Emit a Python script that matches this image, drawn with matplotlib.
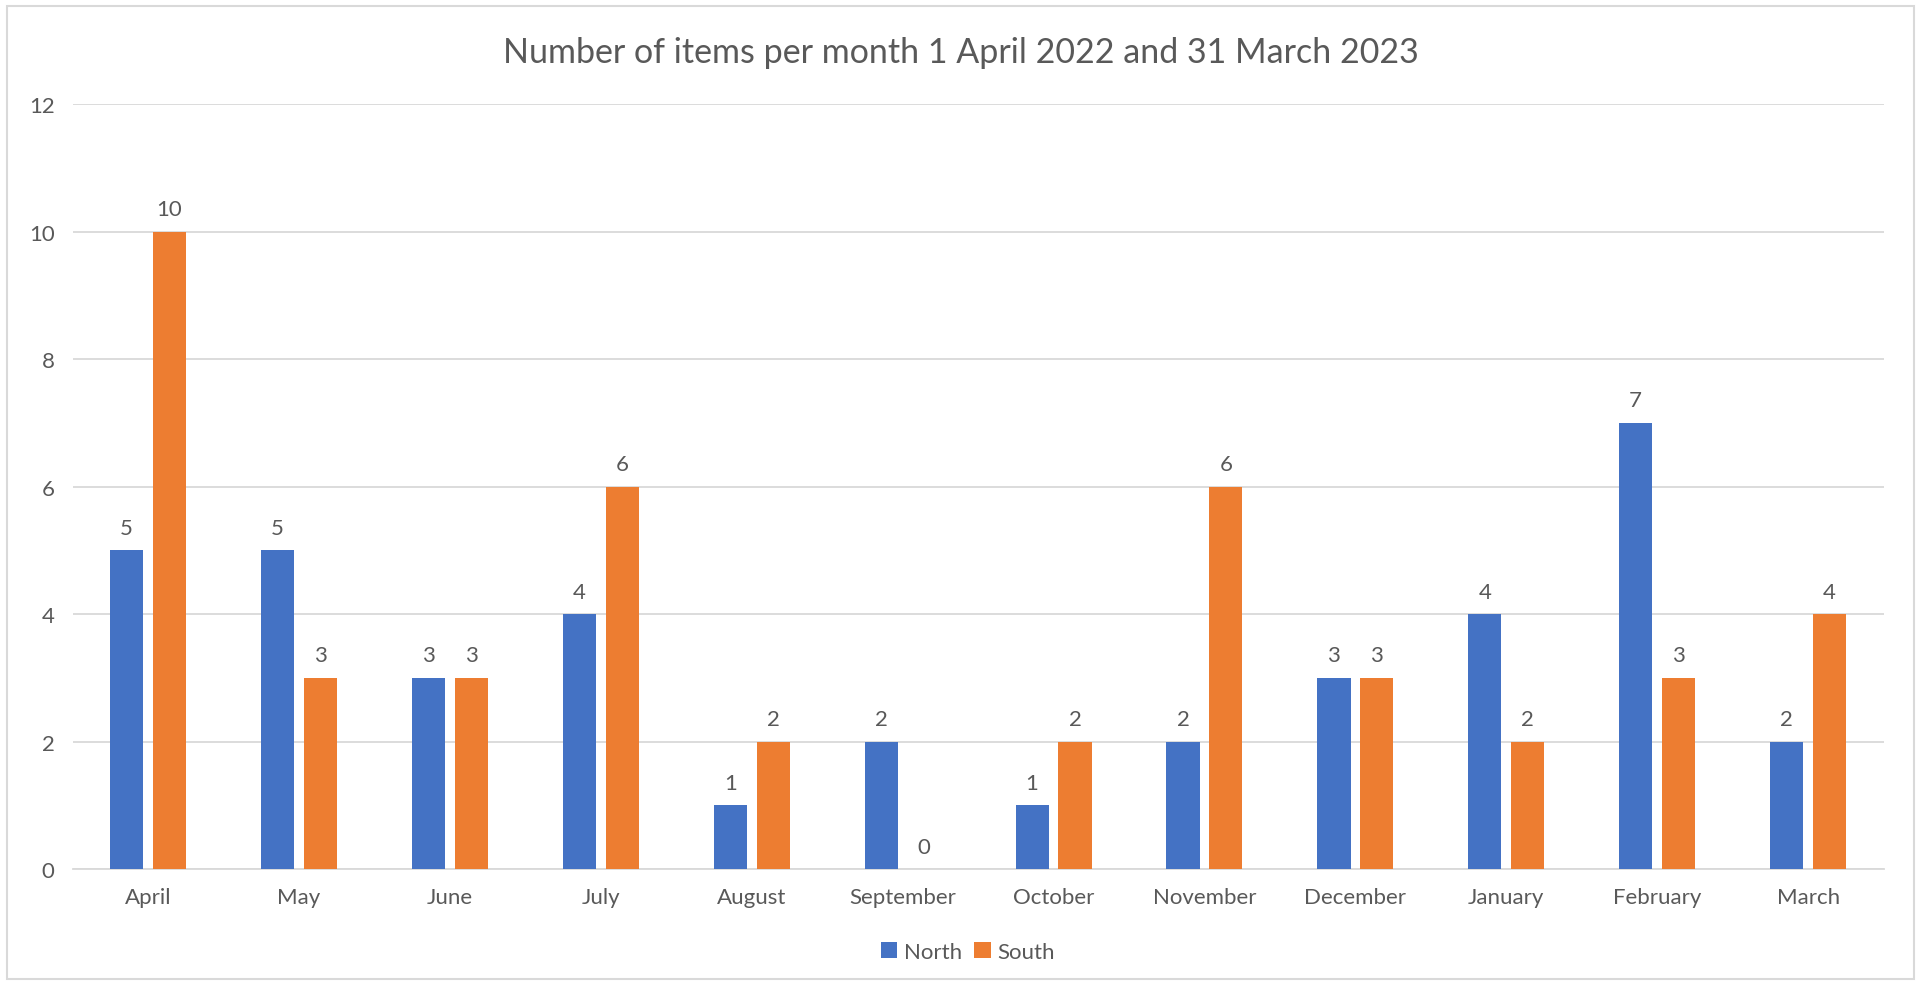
import matplotlib.pyplot as plt
import numpy as np
from matplotlib.patches import Rectangle

months = ['April', 'May', 'June', 'July', 'August', 'September',
          'October', 'November', 'December', 'January', 'February', 'March']
north = [5, 5, 3, 4, 1, 2, 1, 2, 3, 4, 7, 2]
south = [10, 3, 3, 6, 2, 0, 2, 6, 3, 2, 3, 4]
y_ticks = [0, 2, 4, 6, 8, 10, 12]

BLUE = '#4472C4'
ORANGE = '#ED7D31'
GREY_TXT = '#595959'
GRID = '#D9D9D9'

plt.rcParams['font.family'] = ['Lato', 'DejaVu Sans']

fig = plt.figure(figsize=(19.21, 9.87), dpi=100)
ax = fig.add_axes([0.0378, 0.1185, 0.9427, 0.7751])

# outer chart border
fig.patches.append(Rectangle((7 / 1921, 7 / 987), 1907 / 1921, 973 / 987,
                             transform=fig.transFigure, fill=False,
                             edgecolor=GRID, linewidth=1.5))

x = np.arange(len(months))
w = 0.22
off = 0.142
b1 = ax.bar(x - off, north, w, color=BLUE, label='North', zorder=3)
b2 = ax.bar(x + off, south, w, color=ORANGE, label='South', zorder=3)

for bars in (b1, b2):
    ax.bar_label(bars, padding=9, fontsize=16, color=GREY_TXT)

ax.set_xlim(-0.5, len(months) - 0.5)
ax.set_ylim(0, 12)
ax.set_yticks(y_ticks)
ax.set_xticks(x)
ax.set_xticklabels(months)
ax.tick_params(axis='both', length=0, labelsize=16, labelcolor=GREY_TXT)
ax.tick_params(axis='y', pad=13)
ax.tick_params(axis='x', pad=13)

ax.grid(axis='y', color=GRID, linewidth=1.3, zorder=0)
for s in ['top', 'right', 'left']:
    ax.spines[s].set_visible(False)
ax.spines['bottom'].set_color(GRID)
ax.spines['bottom'].set_linewidth(1.3)

fig.text(0.5, 1 - 53 / 987, 'Number of items per month 1 April 2022 and 31 March 2023',
         ha='center', va='center', fontsize=24.5, color=GREY_TXT)

fig.legend(loc='center', bbox_to_anchor=(968 / 1921, 1 - 953 / 987), ncol=2,
           frameon=False, fontsize=16, labelcolor=GREY_TXT,
           handlelength=0.75, handleheight=0.75, handletextpad=0.3, columnspacing=0.55)

plt.savefig('out.png', dpi=100)
